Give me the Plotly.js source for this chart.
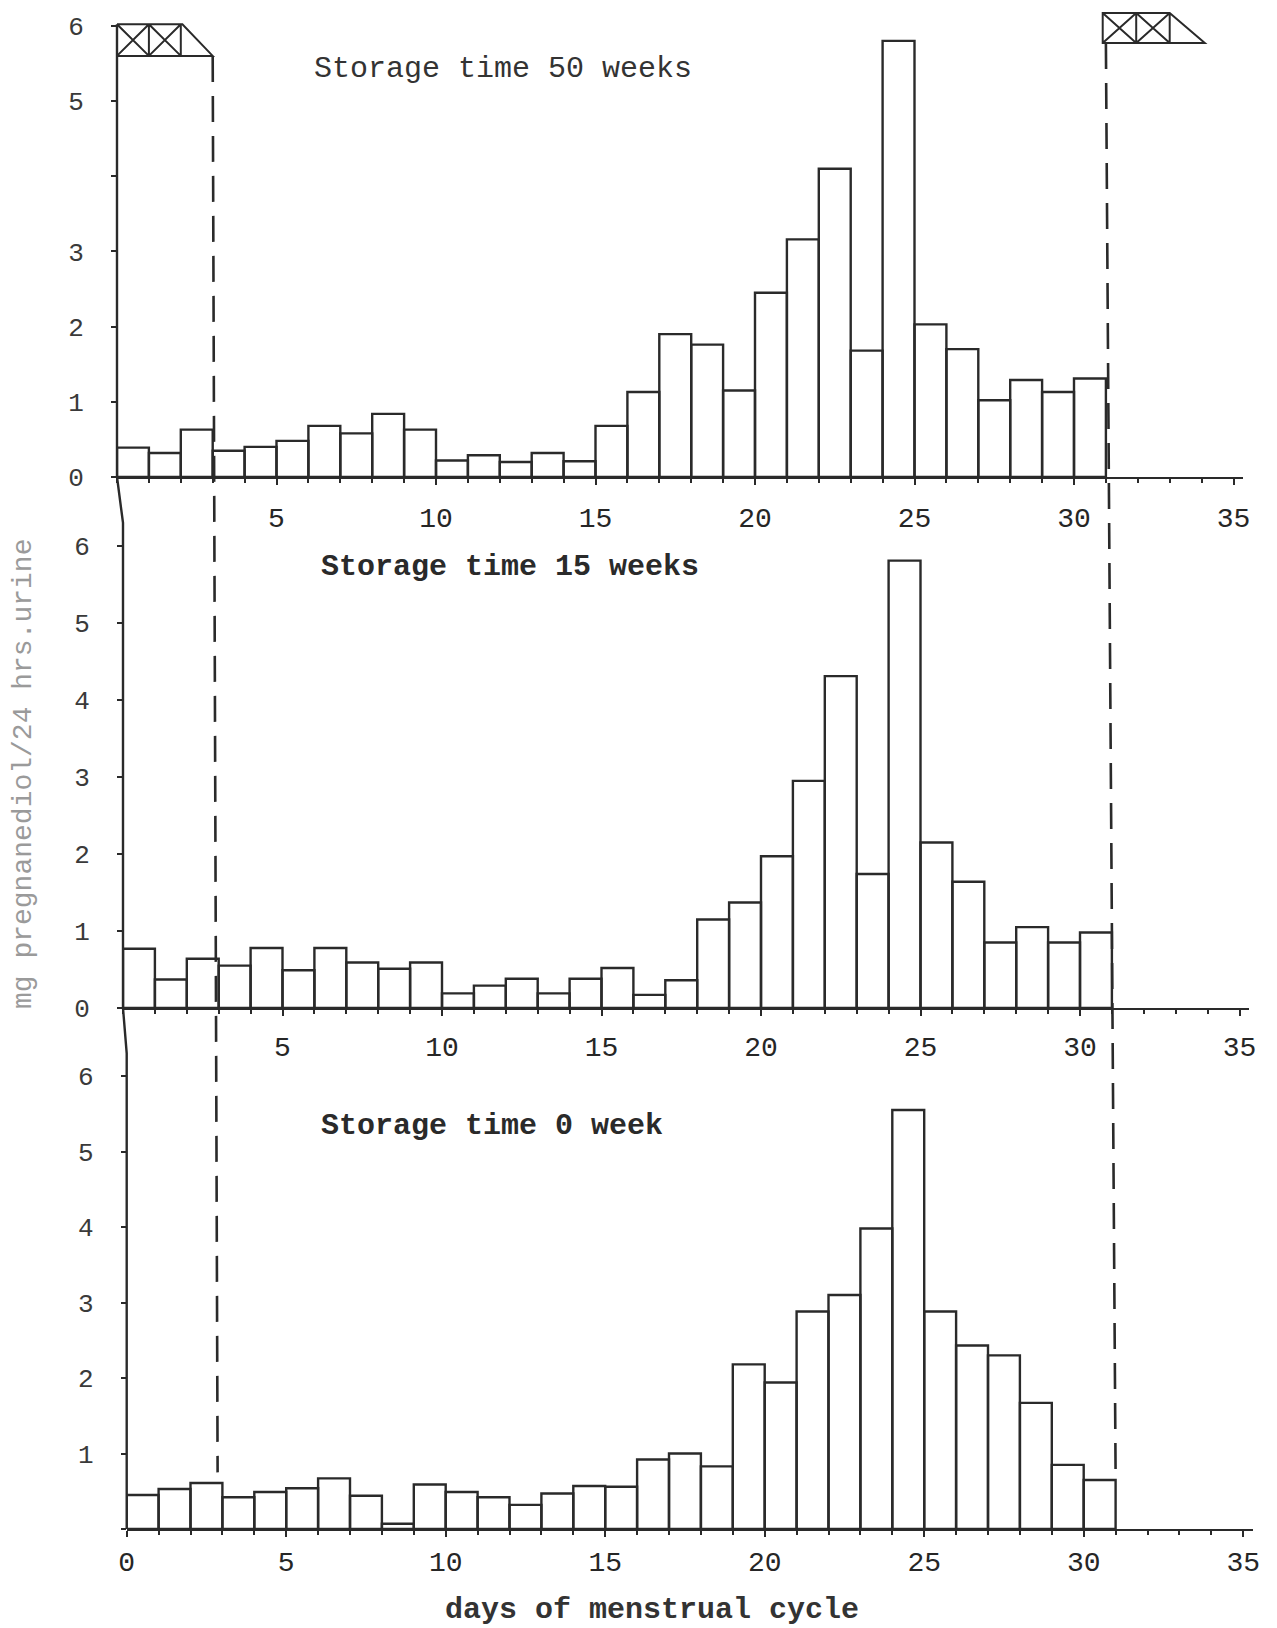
<!DOCTYPE html>
<html>
<head>
<meta charset="utf-8">
<script src="https://cdn.plot.ly/plotly-3.0.1.min.js"></script>
<style>
  html, body { margin: 0; padding: 0; background: #ffffff; }
  #chart { width: 1277px; height: 1628px; }
</style>
</head>
<body>
<div id="chart"></div>
<script>
// Days of the menstrual cycle (one bar per day)
const days = [1, 2, 3, 4, 5, 6, 7, 8, 9, 10, 11, 12, 13, 14, 15, 16,
              17, 18, 19, 20, 21, 22, 23, 24, 25, 26, 27, 28, 29, 30, 31];

// mg pregnanediol / 24 hrs urine, per day, for each storage time
const storage50weeks = [0.39, 0.32, 0.63, 0.35, 0.40, 0.48, 0.68, 0.58, 0.84, 0.63,
                        0.22, 0.29, 0.20, 0.32, 0.21, 0.68, 1.13, 1.90, 1.76, 1.15,
                        2.45, 3.16, 4.10, 1.68, 5.80, 2.03, 1.70, 1.02, 1.29, 1.13, 1.31];
const storage15weeks = [0.77, 0.37, 0.64, 0.55, 0.78, 0.49, 0.78, 0.59, 0.51, 0.59,
                        0.19, 0.29, 0.38, 0.19, 0.38, 0.52, 0.17, 0.36, 1.15, 1.37,
                        1.97, 2.95, 4.31, 1.74, 5.81, 2.15, 1.64, 0.85, 1.05, 0.85, 0.98];
const storage0weeks  = [0.45, 0.53, 0.61, 0.42, 0.49, 0.54, 0.67, 0.44, 0.07, 0.59,
                        0.49, 0.42, 0.32, 0.47, 0.57, 0.56, 0.92, 1.00, 0.83, 2.18,
                        1.94, 2.88, 3.10, 3.98, 5.55, 2.88, 2.43, 2.30, 1.67, 0.85, 0.65];

const panelTitles = ['Storage time 50 weeks', 'Storage time 15 weeks', 'Storage time 0 week'];
const xTitle = 'days of menstrual cycle';
const yTitle = 'mg pregnanediol/24 hrs.urine';

// Tick labels
const xTickValsUpper = [5, 10, 15, 20, 25, 30, 35];
const xTickValsLower = [0, 5, 10, 15, 20, 25, 30, 35];
const yTickVals = [0, 1, 2, 3, 4, 5, 6];
const yTickTextTop = ['0', '1', '2', '3', '', '5', '6'];
const yTickTextMid = ['0', '1', '2', '3', '4', '5', '6'];
const yTickTextBottom = ['', '1', '2', '3', '4', '5', '6'];

// ---- page geometry (pixels) ----
const W = 1277, H = 1628;
const PX_PER_DAY = 31.9;
const XMAX = 35.3, YMAX = 6.3;
const panels = [
  { x0: 117.0, base: 477,  unit: 75.2 },
  { x0: 123.0, base: 1008, unit: 77.0 },
  { x0: 126.7, base: 1529, unit: 75.5 }
];
const INK = '#2a2a2a';
const FONT = 'Liberation Mono, Courier New, monospace';

function xDomain(p) { return [p.x0 / W, (p.x0 + XMAX * PX_PER_DAY) / W]; }
function yDomain(p) { return [(H - p.base) / H, (H - (p.base - YMAX * p.unit)) / H]; }
// convert a (day, value) pair of panel i to paper coordinates
function toPaper(i, x, y) {
  const p = panels[i];
  return [(p.x0 + x * PX_PER_DAY) / W, (H - (p.base - y * p.unit)) / H];
}

function xAxis(i, tickvals, standoff) {
  return {
    domain: xDomain(panels[i]), range: [0, XMAX], anchor: i === 0 ? 'y' : 'y' + (i + 1),
    showline: true, linecolor: INK, linewidth: 2,
    showgrid: false, zeroline: false,
    ticks: 'outside', ticklen: 6, tickwidth: 2, tickcolor: INK,
    tickmode: 'array', tickvals: tickvals, ticktext: tickvals.map(String),
    tickfont: { family: FONT, size: 28, color: '#262626' },
    ticklabelstandoff: standoff,
    minor: { tickmode: 'linear', tick0: 0, dtick: 1, ticks: 'outside', ticklen: 4, tickwidth: 1.5, tickcolor: INK },
    fixedrange: true
  };
}
function yAxis(i, ticktext) {
  return {
    domain: yDomain(panels[i]), range: [0, YMAX], anchor: i === 0 ? 'x' : 'x' + (i + 1),
    showline: false, showgrid: false, zeroline: false,
    ticks: 'outside', ticklen: 5, tickwidth: 2, tickcolor: INK,
    tickmode: 'array', tickvals: yTickVals, ticktext: ticktext,
    tickfont: { family: FONT, size: 26, color: '#3a3a3a' },
    ticklabelstandoff: 22,
    fixedrange: true
  };
}

function barTrace(values, i) {
  return {
    type: 'bar', x: days, y: values, width: 1, offset: -1,
    xaxis: i === 0 ? 'x' : 'x' + (i + 1),
    yaxis: i === 0 ? 'y' : 'y' + (i + 1),
    marker: { color: 'rgba(255,255,255,0)', line: { color: INK, width: 2.4 } },
    showlegend: false, hoverinfo: 'x+y'
  };
}

const data = [
  barTrace(storage50weeks, 0),
  barTrace(storage15weeks, 1),
  barTrace(storage0weeks, 2)
];

// continuous vertical axis line running through all three panels
const axisPts = [
  toPaper(0, 0, 6.02), toPaper(0, 0, 0),
  toPaper(1, 0, YMAX), toPaper(1, 0, 0),
  toPaper(2, 0, YMAX), toPaper(2, 0, 0)
];
const axisPath = 'M ' + axisPts.map(p => p[0].toFixed(5) + ',' + p[1].toFixed(5)).join(' L ');

// dashed guide lines marking the cycle limits (day 3 and day 31)
const leftTop = toPaper(0, 3.0, 5.6), leftBottom = toPaper(2, 2.85, 0.75);
const rightTop = toPaper(0, 31.0, 5.77), rightBottom = toPaper(2, 31.0, 0.72);
const dashStyle = { color: INK, width: 2.6, dash: '26px,14px' };

// menstruation marker boxes (crossed cells plus a closing triangle)
const leftBox =
  'M 0,5.6 L 0,6.02 L 2.05,6.02 L 3,5.6 Z ' +
  'M 1,5.6 L 1,6.02 M 2,5.6 L 2,6.02 ' +
  'M 0,5.6 L 1,6.02 M 0,6.02 L 1,5.6 ' +
  'M 1,5.6 L 2,6.02 M 1,6.02 L 2,5.6';
const rightBox =
  'M 30.9,5.77 L 30.9,6.17 L 33,6.17 L 34.1,5.77 Z ' +
  'M 31.95,5.77 L 31.95,6.17 M 33,5.77 L 33,6.17 ' +
  'M 30.9,5.77 L 31.95,6.17 M 30.9,6.17 L 31.95,5.77 ' +
  'M 31.95,5.77 L 33,6.17 M 31.95,6.17 L 33,5.77';

const shapes = [
  { type: 'path', xref: 'paper', yref: 'paper', path: axisPath, line: { color: INK, width: 2.4 } },
  { type: 'line', xref: 'paper', yref: 'paper', x0: leftTop[0], y0: leftTop[1], x1: leftBottom[0], y1: leftBottom[1], line: dashStyle },
  { type: 'line', xref: 'paper', yref: 'paper', x0: rightTop[0], y0: rightTop[1], x1: rightBottom[0], y1: rightBottom[1], line: dashStyle },
  { type: 'path', xref: 'x', yref: 'y', path: leftBox, line: { color: INK, width: 2 } },
  { type: 'path', xref: 'x', yref: 'y', path: rightBox, line: { color: INK, width: 2 } }
];

const annotations = [
  { text: panelTitles[0], xref: 'paper', yref: 'paper', x: 311.5 / W, y: (H - 68.5) / H,
    xanchor: 'left', yanchor: 'middle', showarrow: false,
    font: { family: FONT, size: 30, color: '#333' } },
  { text: '<b>' + panelTitles[1] + '</b>', xref: 'paper', yref: 'paper', x: 318.8 / W, y: (H - 567) / H,
    xanchor: 'left', yanchor: 'middle', showarrow: false,
    font: { family: FONT, size: 30, color: '#2a2a2a' } },
  { text: '<b>' + panelTitles[2] + '</b>', xref: 'paper', yref: 'paper', x: 318.8 / W, y: (H - 1125.6) / H,
    xanchor: 'left', yanchor: 'middle', showarrow: false,
    font: { family: FONT, size: 30, color: '#2a2a2a' } },
  { text: '<b>' + xTitle + '</b>', xref: 'paper', yref: 'paper', x: 652 / W, y: (H - 1610) / H,
    xanchor: 'center', yanchor: 'middle', showarrow: false,
    font: { family: FONT, size: 30, color: '#333' } },
  { text: yTitle, xref: 'paper', yref: 'paper', x: 23 / W, y: (H - 774) / H, textangle: -90,
    xanchor: 'center', yanchor: 'middle', showarrow: false,
    font: { family: FONT, size: 28, color: '#9a9a9a' } }
];

const layout = {
  width: W, height: H,
  margin: { l: 0, r: 0, t: 0, b: 0 },
  paper_bgcolor: '#ffffff', plot_bgcolor: 'rgba(0,0,0,0)',
  showlegend: false,
  xaxis: xAxis(0, xTickValsUpper, 8),
  xaxis2: xAxis(1, xTickValsUpper, 6),
  xaxis3: xAxis(2, xTickValsLower, 0),
  yaxis: yAxis(0, yTickTextTop),
  yaxis2: yAxis(1, yTickTextMid),
  yaxis3: yAxis(2, yTickTextBottom),
  shapes: shapes,
  annotations: annotations
};

Plotly.newPlot('chart', data, layout, { displayModeBar: false, responsive: false });
</script>
</body>
</html>
